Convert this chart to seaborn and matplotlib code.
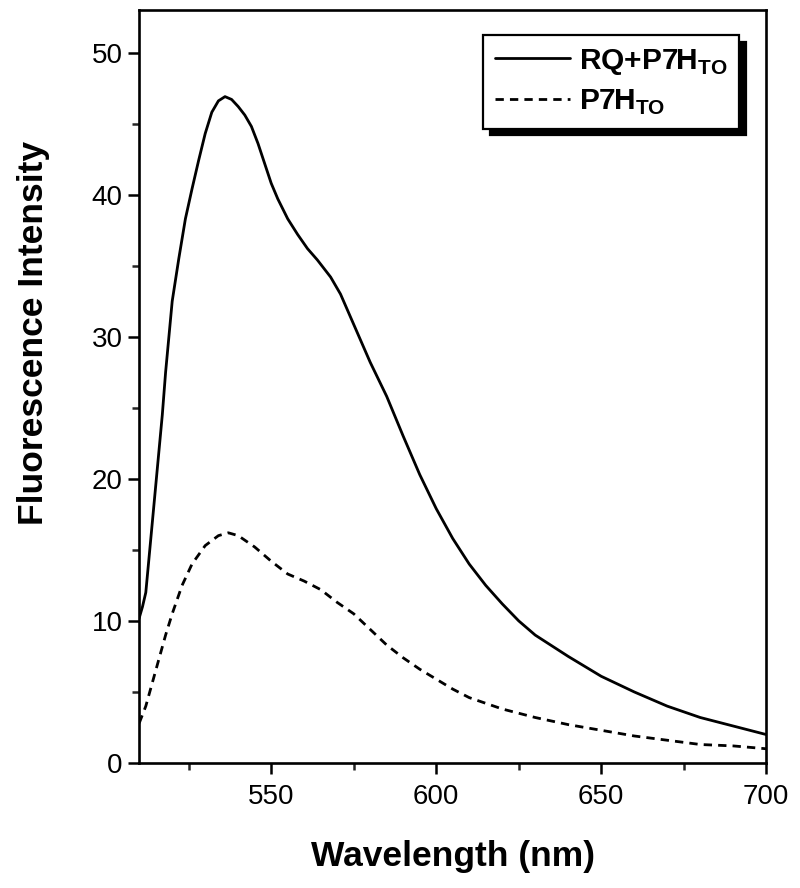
import numpy as np
import pandas as pd
import seaborn as sns
import matplotlib.pyplot as plt
from matplotlib.ticker import MultipleLocator

# emission spectra
wl_rq = [510, 511, 512, 513, 514, 515, 516, 517, 518, 520, 522, 524, 526, 528, 530,
         532, 534, 536, 538, 540, 542, 544, 546, 548, 550, 552, 555, 558, 561, 564,
         568, 571, 574, 577, 580, 585, 590, 595, 600, 605, 610, 615, 620, 625, 630,
         640, 650, 660, 670, 680, 690, 700]
int_rq = [10.2, 11.0, 12.0, 14.5, 17.0, 19.5, 22.0, 24.5, 27.5, 32.5, 35.5, 38.3, 40.4, 42.4, 44.3,
          45.8, 46.6, 46.9, 46.7, 46.2, 45.6, 44.8, 43.6, 42.2, 40.8, 39.7, 38.3, 37.2, 36.2, 35.4,
          34.2, 33.0, 31.4, 29.8, 28.2, 25.8, 23.0, 20.3, 17.9, 15.8, 14.0, 12.5, 11.2, 10.0, 9.0,
          7.5, 6.1, 5.0, 4.0, 3.2, 2.6, 2.0]

wl_p7 = [510, 512, 515, 518, 520, 523, 526, 530, 534, 537, 540, 545, 550, 555, 560,
         565, 570, 575, 580, 585, 590, 595, 600, 605, 610, 615, 620, 630, 640, 650,
         660, 670, 680, 690, 700]
int_p7 = [2.8, 4.0, 6.5, 9.0, 10.5, 12.5, 14.0, 15.3, 16.0, 16.2, 16.0, 15.2, 14.2, 13.3, 12.8,
          12.2, 11.3, 10.5, 9.4, 8.3, 7.4, 6.6, 5.9, 5.2, 4.6, 4.2, 3.8, 3.2, 2.7, 2.3,
          1.9, 1.6, 1.3, 1.2, 1.0]

sns.set_theme(style='ticks')
plt.rcParams['font.family'] = ['Liberation Sans', 'DejaVu Sans']
plt.rcParams['mathtext.fontset'] = 'custom'
plt.rcParams['mathtext.rm'] = 'Liberation Sans'
plt.rcParams['mathtext.bf'] = 'Liberation Sans:bold'
plt.rcParams['text.color'] = 'black'
plt.rcParams['axes.labelcolor'] = 'black'

fig = plt.figure(figsize=(8, 8.88), dpi=100)
ax = fig.add_axes([0.174, 0.1408, 0.7838, 0.848])

df_rq = pd.DataFrame({'wl': wl_rq, 'I': int_rq})
df_p7 = pd.DataFrame({'wl': wl_p7, 'I': int_p7})
sns.lineplot(data=df_rq, x='wl', y='I', ax=ax, color='black', lw=2.0,
             label=r'RQ+P7H$_\mathbf{TO}$')
sns.lineplot(data=df_p7, x='wl', y='I', ax=ax, color='black', lw=2.0,
             linestyle=(0, (3, 2.2)), label=r'P7H$_\mathbf{TO}$')

ax.set_xlim(510, 700)
ax.set_ylim(0, 53)
ax.xaxis.set_major_locator(MultipleLocator(50))
ax.xaxis.set_minor_locator(MultipleLocator(25))
ax.yaxis.set_major_locator(MultipleLocator(10))
ax.yaxis.set_minor_locator(MultipleLocator(5))
ax.tick_params(which='major', direction='out', length=8, width=1.8, labelsize=20,
               colors='black')
ax.tick_params(axis='x', which='major', pad=7)
ax.tick_params(axis='y', which='major', pad=4)
ax.tick_params(which='minor', direction='out', length=5, width=1.8)
for s in ax.spines.values():
    s.set_linewidth(1.9)
    s.set_color('black')

ax.set_xlabel('Wavelength (nm)', fontsize=25.5, fontweight='bold', labelpad=22)
ax.set_ylabel('Fluorescence Intensity', fontsize=25.5, fontweight='bold')
ax.yaxis.set_label_coords(-0.142, 0.571)

leg = ax.legend(loc='upper right', bbox_to_anchor=(0.957, 0.967), borderaxespad=0,
                prop={'size': 21.5, 'weight': 'bold'}, handlelength=2.5, handletextpad=0.3,
                labelspacing=0.36, borderpad=0.4, frameon=True, fancybox=False,
                shadow={'ox': 5, 'oy': -5, 'color': 'black', 'alpha': 1})
leg.get_frame().set_edgecolor('black')
leg.get_frame().set_linewidth(1.6)
leg.get_frame().set_alpha(1)

fig.savefig('out.png', dpi=100)
